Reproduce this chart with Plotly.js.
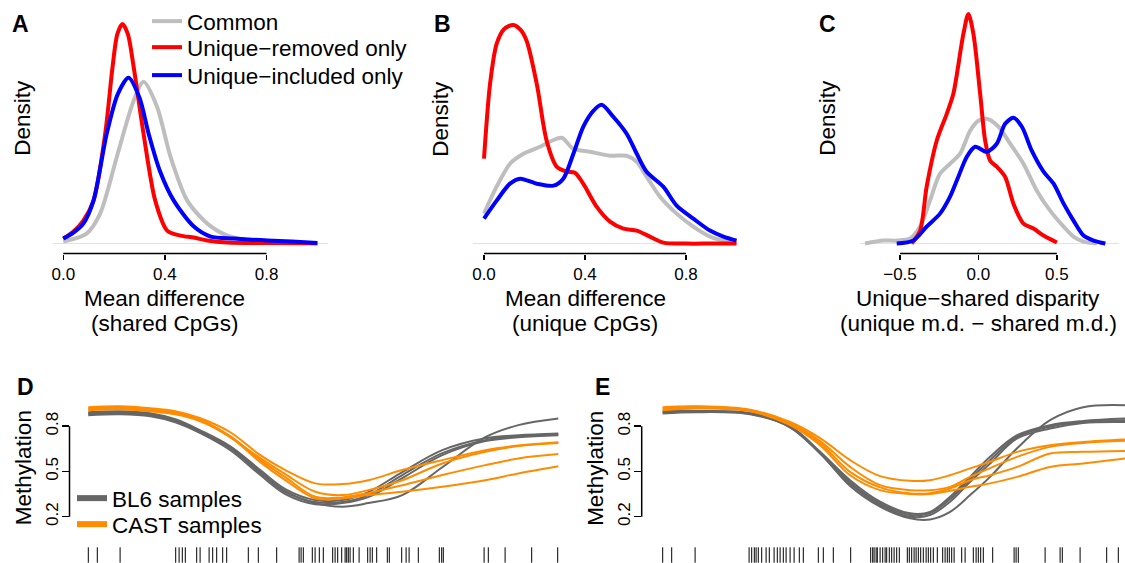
<!DOCTYPE html>
<html><head><meta charset="utf-8">
<script src="https://cdn.plot.ly/plotly-3.0.1.min.js"></script>
<style>html,body{margin:0;padding:0;background:#fff}#chart{width:1125px;height:563px}</style>
</head><body><div id="chart"></div>
<script>
// ---------- Panel A: mean difference (shared CpGs) ----------
const aCommonX   = [0, 0.092, 0.145, 0.211, 0.277, 0.316, 0.369, 0.422, 0.488, 0.567, 0.646, 0.738, 0.87, 1.0];
const aCommonY   = [0.05, 0.25, 0.75, 2.175, 3.575, 4.05, 3.425, 2.175, 1.075, 0.5, 0.2, 0.075, 0.025, 0];
const aRemovedX  = [0, 0.04, 0.079, 0.119, 0.165, 0.194, 0.213, 0.233, 0.254, 0.277, 0.316, 0.362, 0.409, 0.461, 0.514, 0.567, 0.646, 0.8, 1.0];
const aRemovedY  = [0.125, 0.3, 0.575, 1.075, 2.75, 4.425, 5.25, 5.5, 5.25, 4.425, 2.75, 1.075, 0.325, 0.2, 0.15, 0.075, 0.025, 0.0125, 0.0075];
const aIncludedX = [0, 0.04, 0.079, 0.119, 0.171, 0.215, 0.257, 0.3, 0.336, 0.38, 0.435, 0.514, 0.58, 0.672, 0.804, 0.9, 1.0];
const aIncludedY = [0.125, 0.275, 0.5, 1.075, 2.75, 3.75, 4.15, 3.65, 2.75, 1.825, 1.075, 0.425, 0.175, 0.125, 0.075, 0.05, 0.0125];

// ---------- Panel B: mean difference (unique CpGs) ----------
const bCommonX   = [0, 0.05, 0.103, 0.156, 0.222, 0.268, 0.308, 0.354, 0.42, 0.499, 0.565, 0.605, 0.644, 0.697, 0.763, 0.829, 0.895, 0.948, 1.0];
const bCommonY   = [0.75, 1.425, 2.0, 2.25, 2.425, 2.575, 2.65, 2.375, 2.3, 2.2, 2.2, 2.05, 1.675, 1.175, 0.75, 0.425, 0.175, 0.075, 0.025];
const bRemovedX  = [0, 0.024, 0.05, 0.08, 0.116, 0.145, 0.169, 0.209, 0.248, 0.288, 0.327, 0.36, 0.393, 0.446, 0.499, 0.552, 0.605, 0.657, 0.71, 0.8, 0.9, 1.0];
const bRemovedY  = [2.125, 4.0, 5.0, 5.375, 5.475, 5.35, 5.075, 4.0, 2.575, 1.925, 1.8, 1.775, 1.5, 0.925, 0.55, 0.375, 0.325, 0.175, 0.025, 0, 0, 0];
const bIncludedX = [0, 0.05, 0.103, 0.143, 0.209, 0.275, 0.314, 0.354, 0.393, 0.433, 0.466, 0.512, 0.565, 0.605, 0.644, 0.71, 0.763, 0.829, 0.895, 0.948, 1.0];
const bIncludedY = [0.625, 1.075, 1.5, 1.625, 1.5, 1.45, 1.625, 2.25, 2.925, 3.325, 3.475, 3.175, 2.75, 2.25, 1.8, 1.425, 0.95, 0.625, 0.325, 0.175, 0.075];

// ---------- Panel C: unique-shared disparity ----------
const cCommonX   = [-0.723, -0.606, -0.521, -0.436, -0.372, -0.309, -0.245, -0.181, -0.117, -0.053, 0, 0.053, 0.128, 0.202, 0.287, 0.372, 0.457, 0.543, 0.606, 0.67, 0.755];
const cCommonY   = [0, 0.075, 0.075, 0.125, 0.425, 1.075, 1.75, 2.0, 2.25, 2.825, 3.075, 3.125, 2.925, 2.5, 2.0, 1.325, 0.825, 0.425, 0.175, 0.05, 0];
const cRemovedX  = [-0.426, -0.372, -0.33, -0.266, -0.202, -0.16, -0.096, -0.064, -0.032, 0.011, 0.043, 0.075, 0.117, 0.17, 0.223, 0.287, 0.351, 0.415, 0.5];
const cRemovedY  = [0, 0.325, 1.425, 2.575, 3.25, 3.75, 5.25, 5.75, 5.25, 3.75, 2.575, 2.075, 1.925, 1.675, 1.0, 0.5, 0.375, 0.2, 0.025];
const cIncludedX = [-0.521, -0.415, -0.33, -0.245, -0.181, -0.128, -0.074, -0.021, 0.053, 0.117, 0.17, 0.223, 0.277, 0.34, 0.415, 0.479, 0.543, 0.606, 0.67, 0.734, 0.809];
const cIncludedY = [0, 0.075, 0.425, 0.75, 1.175, 1.675, 2.175, 2.425, 2.3, 2.5, 3.0, 3.15, 2.925, 2.325, 1.8, 1.5, 1.0, 0.575, 0.2, 0.075, 0];

const seriesNames = ['Common', 'Unique\u2212removed only', 'Unique\u2212included only'];
const abTicks = [0, 0.4, 0.8];
const abTickText = ['0.0', '0.4', '0.8'];
const cTicks = [-0.5, 0, 0.5];
const cTickText = ['\u22120.5', '0.0', '0.5'];

// ---------- Panel D: smoothed methylation, region 1 ----------
const dPos = [0, 160, 310, 435, 560, 710, 860, 985, 1135, 1270, 1400, 1570, 1770, 1985, 2150, 2350];
const dBL6 = [
  [0.879, 0.886, 0.873, 0.840, 0.767, 0.661, 0.496, 0.370, 0.290, 0.266, 0.290, 0.343, 0.528, 0.727, 0.807, 0.851],
  [0.893, 0.899, 0.886, 0.846, 0.773, 0.667, 0.509, 0.383, 0.310, 0.310, 0.363, 0.496, 0.641, 0.720, 0.740, 0.752],
  [0.886, 0.893, 0.879, 0.833, 0.760, 0.654, 0.489, 0.363, 0.297, 0.297, 0.343, 0.476, 0.621, 0.707, 0.734, 0.746],
  [0.873, 0.879, 0.866, 0.826, 0.754, 0.641, 0.476, 0.350, 0.283, 0.290, 0.330, 0.456, 0.608, 0.701, 0.727, 0.740]
];
const dCAST = [
  [0.926, 0.932, 0.919, 0.899, 0.853, 0.760, 0.608, 0.509, 0.421, 0.416, 0.442, 0.509, 0.575, 0.641, 0.672, 0.694],
  [0.919, 0.926, 0.913, 0.893, 0.846, 0.727, 0.588, 0.482, 0.365, 0.343, 0.376, 0.442, 0.553, 0.630, 0.668, 0.689],
  [0.913, 0.919, 0.906, 0.886, 0.840, 0.734, 0.575, 0.462, 0.332, 0.328, 0.356, 0.409, 0.476, 0.542, 0.586, 0.615],
  [0.906, 0.913, 0.899, 0.879, 0.833, 0.727, 0.562, 0.442, 0.321, 0.321, 0.343, 0.365, 0.398, 0.442, 0.487, 0.535]
];
const dCpG = [0, 45, 159, 437, 454, 470, 485, 542, 559, 604, 622, 642, 672, 692, 800, 850, 942, 1054, 1064, 1075, 1120, 1134, 1155, 1175, 1222, 1234, 1247, 1267, 1284, 1292, 1300, 1309, 1325, 1354, 1397, 1409, 1420, 1442, 1495, 1505, 1567, 1589, 1604, 1650, 1755, 1767, 1775, 1979, 2000, 2084, 2217, 2347];

// ---------- Panel E: smoothed methylation, region 2 ----------
const ePos = [0, 162, 437, 637, 787, 937, 1087, 1237, 1337, 1437, 1537, 1637, 1772, 1937, 2102, 2312];
const eBL6 = [
  [0.893, 0.899, 0.886, 0.793, 0.621, 0.403, 0.266, 0.189, 0.182, 0.232, 0.343, 0.464, 0.654, 0.840, 0.926, 0.939],
  [0.901, 0.901, 0.886, 0.800, 0.630, 0.442, 0.299, 0.222, 0.232, 0.332, 0.464, 0.597, 0.740, 0.807, 0.835, 0.851],
  [0.893, 0.896, 0.883, 0.797, 0.625, 0.429, 0.287, 0.211, 0.224, 0.317, 0.449, 0.575, 0.730, 0.797, 0.828, 0.840],
  [0.884, 0.893, 0.879, 0.793, 0.619, 0.416, 0.277, 0.199, 0.211, 0.299, 0.431, 0.553, 0.719, 0.785, 0.822, 0.828]
];
const eCAST = [
  [0.926, 0.932, 0.909, 0.828, 0.721, 0.575, 0.469, 0.438, 0.442, 0.475, 0.520, 0.564, 0.630, 0.674, 0.696, 0.712],
  [0.919, 0.929, 0.906, 0.820, 0.701, 0.530, 0.409, 0.376, 0.376, 0.398, 0.464, 0.522, 0.597, 0.663, 0.689, 0.703],
  [0.913, 0.923, 0.903, 0.813, 0.687, 0.497, 0.394, 0.354, 0.356, 0.387, 0.442, 0.475, 0.530, 0.619, 0.630, 0.636],
  [0.906, 0.917, 0.899, 0.807, 0.674, 0.475, 0.376, 0.350, 0.350, 0.372, 0.398, 0.421, 0.464, 0.530, 0.553, 0.586]
];
const eCpG = [0, 45, 162, 432, 445, 458, 467, 478, 495, 517, 533, 557, 573, 587, 603, 617, 637, 657, 683, 703, 778, 803, 853, 940, 1040, 1050, 1057, 1067, 1073, 1087, 1100, 1112, 1120, 1133, 1145, 1157, 1170, 1183, 1223, 1233, 1245, 1257, 1267, 1278, 1290, 1303, 1317, 1328, 1340, 1353, 1373, 1400, 1412, 1423, 1433, 1445, 1457, 1495, 1512, 1553, 1567, 1578, 1590, 1603, 1650, 1757, 1767, 1778, 1912, 1987, 1998, 2087, 2220, 2278];

const methTicks = [0.2, 0.5, 0.8];
const methTickText = ['0.2', '0.5', '0.8'];
const groupNames = ['BL6 samples', 'CAST samples'];

// ---------- styles ----------
const FONT = 'Liberation Sans, Arial, Helvetica, sans-serif';
const densColors = ['#BEBEBE', '#FF0000', '#0000FF'];
const grpColors = ['#666666', '#FF8C00'];
const W = 1125, H = 563;
const px = v => v / W, py = v => (H - v) / H;
const densLegends = ['legend', 'legend3', 'legend4'];
const grpLegends = ['legend2', 'legend5'];

const traces = [];
function densTraces(xs, ys, xa, ya, legend) {
  xs.forEach((x, i) => traces.push({
    type: 'scatter', mode: 'lines', x: x, y: ys[i], xaxis: xa, yaxis: ya,
    name: seriesNames[i], showlegend: legend, legend: densLegends[i],
    line: {color: densColors[i], width: 4, shape: 'spline', smoothing: 0.8}
  }));
}
densTraces([aCommonX, aRemovedX, aIncludedX], [aCommonY, aRemovedY, aIncludedY], 'x', 'y', true);
densTraces([bCommonX, bRemovedX, bIncludedX], [bCommonY, bRemovedY, bIncludedY], 'x2', 'y2', false);
densTraces([cCommonX, cRemovedX, cIncludedX], [cCommonY, cRemovedY, cIncludedY], 'x3', 'y3', false);

function methTraces(pos, bl6, cast, xa, ya) {
  [bl6, cast].forEach((grp, g) => grp.forEach(vals => traces.push({
    type: 'scatter', mode: 'lines', x: pos, y: vals, xaxis: xa, yaxis: ya,
    name: groupNames[g], showlegend: false,
    line: {color: grpColors[g], width: 2, shape: 'spline', smoothing: 1}
  })));
}
methTraces(dPos, dBL6, dCAST, 'x4', 'y4');
methTraces(ePos, eBL6, eCAST, 'x5', 'y5');
// legend keys for D (thick lines)
groupNames.forEach((n, g) => traces.push({
  type: 'scatter', mode: 'lines', x: [null], y: [null], xaxis: 'x4', yaxis: 'y4',
  name: n, showlegend: true, legend: grpLegends[g], line: {color: grpColors[g], width: 6}
}));
// empty traces so the label-only overlay axes get drawn
[['x4', 'y8'], ['x5', 'y9']].forEach(([xa, ya]) => traces.push({
  type: 'scatter', mode: 'lines', x: [null], y: [null], xaxis: xa, yaxis: ya, showlegend: false, hoverinfo: 'skip'
}));
// CpG rug marks
[[dCpG, 'x4', 'y6'], [eCpG, 'x5', 'y7']].forEach(([pos, xa, ya]) => traces.push({
  type: 'scatter', mode: 'markers', x: pos, y: pos.map(() => 0.5), xaxis: xa, yaxis: ya,
  showlegend: false, name: 'CpG',
  marker: {symbol: 'line-ns-open', size: 11, color: '#000', line: {width: 1, color: '#000'}}
}));

const topY = {domain: [py(253), py(10)], range: [-0.25, 5.825], showticklabels: false, ticks: '',
  showgrid: false, showline: false, zeroline: true, zerolinecolor: '#e3e3e3', zerolinewidth: 1, fixedrange: true};
function topX(domain, range, vals, text, anchor) {
  return {domain: domain, range: range, anchor: anchor, tickvals: vals, ticktext: text,
    ticks: 'outside', ticklen: 5, tickwidth: 1.5, tickcolor: '#000', showline: false, showgrid: false,
    zeroline: false, tickfont: {size: 17, family: FONT, color: '#000'}};
}
const methDomain = [py(531.7), py(401.8)];
const methRange = [0.1, 0.96];
// axis carrying tick marks only
function methY(anchor) {
  return {domain: methDomain, range: methRange, anchor: anchor, tickvals: methTicks,
    showticklabels: false, ticks: 'outside', ticklen: 7, tickwidth: 1.5, tickcolor: '#000', showline: false,
    showgrid: false, zeroline: false};
}
// overlay axis carrying rotated tick labels, close to the axis line
function methLabels(anchor, over) {
  return {overlaying: over, range: methRange, anchor: anchor, tickvals: methTicks, ticktext: methTickText,
    tickangle: -90, ticks: '', showline: false, showgrid: false, zeroline: false, ticklabelstandoff: 7,
    tickfont: {size: 17, family: FONT, color: '#000'}};
}
const hidden = {showticklabels: false, ticks: '', showgrid: false, zeroline: false, showline: false};
function leg(x, ytop) {
  return {x: px(x), y: py(ytop), xanchor: 'left', yanchor: 'top', bgcolor: 'rgba(0,0,0,0)',
    font: {size: 22.5, family: FONT, color: '#000'}};
}

const layout = {
  width: W, height: H, margin: {l: 0, r: 0, t: 0, b: 0},
  paper_bgcolor: '#fff', plot_bgcolor: 'rgba(0,0,0,0)',
  font: {family: FONT, color: '#000'},
  xaxis:  topX([px(53.1), px(327.5)], [-0.04, 1.04], abTicks, abTickText, 'y'),
  xaxis2: topX([px(473.4), px(738)], [-0.042, 1.006], abTicks, abTickText, 'y2'),
  xaxis3: topX([px(860), px(1119.3)], [-0.755, 0.898], cTicks, cTickText, 'y3'),
  yaxis:  Object.assign({anchor: 'x'}, topY),
  yaxis2: Object.assign({anchor: 'x2'}, topY),
  yaxis3: Object.assign({anchor: 'x3'}, topY),
  xaxis4: Object.assign({domain: [px(69.5), px(576.5)], range: [-94, 2441], anchor: 'y4'}, hidden),
  xaxis5: Object.assign({domain: [px(641.7), 1], range: [-105, 2311.5], anchor: 'y5'}, hidden),
  yaxis4: methY('x4'),
  yaxis5: methY('x5'),
  yaxis8: methLabels('x4', 'y4'),
  yaxis9: methLabels('x5', 'y5'),
  yaxis6: Object.assign({domain: [0, py(547)], range: [0, 1], anchor: 'x4'}, hidden),
  yaxis7: Object.assign({domain: [0, py(547)], range: [0, 1], anchor: 'x5'}, hidden),
  legend:  leg(147, -1),
  legend3: leg(147, 26),
  legend4: leg(147, 54),
  legend2: leg(72, 477),
  legend5: leg(72, 503),
  shapes: [
    {type: 'line', xref: 'x', yref: 'y domain', x0: abTicks[0], x1: abTicks[abTicks.length - 1], y0: 0, y1: 0, line: {color: '#000', width: 1.5}},
    {type: 'line', xref: 'x2', yref: 'y2 domain', x0: abTicks[0], x1: abTicks[abTicks.length - 1], y0: 0, y1: 0, line: {color: '#000', width: 1.5}},
    {type: 'line', xref: 'x3', yref: 'y3 domain', x0: cTicks[0], x1: cTicks[cTicks.length - 1], y0: 0, y1: 0, line: {color: '#000', width: 1.5}},
    {type: 'line', xref: 'x4 domain', yref: 'y4', x0: 0, x1: 0, y0: methTicks[0], y1: methTicks[methTicks.length - 1], line: {color: '#000', width: 1.5}},
    {type: 'line', xref: 'x5 domain', yref: 'y5', x0: 0, x1: 0, y0: methTicks[0], y1: methTicks[methTicks.length - 1], line: {color: '#000', width: 1.5}}
  ],
  annotations: []
};

const ann = layout.annotations;
const tfont = {size: 22.5, family: FONT, color: '#000'};
[['A', 20, 23], ['B', 442, 23], ['C', 827, 23], ['D', 25, 387], ['E', 602, 387]].forEach(([t, x, y]) =>
  ann.push({text: '<b>' + t + '</b>', x: px(x), y: py(y), xref: 'paper', yref: 'paper', showarrow: false,
    xanchor: 'center', yanchor: 'middle', font: {size: 23, family: FONT, color: '#000'}}));
[[23, 117], [441, 118], [828, 117]].forEach(([x, y]) =>
  ann.push({text: 'Density', x: px(x), y: py(y), xref: 'paper', yref: 'paper', textangle: -90, showarrow: false,
    xanchor: 'center', yanchor: 'middle', font: tfont}));
[[23, 468], [594.7, 468]].forEach(([x, y]) =>
  ann.push({text: 'Methylation', x: px(x), y: py(y), xref: 'paper', yref: 'paper', textangle: -90, showarrow: false,
    xanchor: 'center', yanchor: 'middle', font: tfont}));
[['x', (abTicks[0] + abTicks[2]) / 2, 'Mean difference', '(shared CpGs)'],
 ['x2', (abTicks[0] + abTicks[2]) / 2, 'Mean difference', '(unique CpGs)'],
 ['x3', (cTicks[0] + cTicks[2]) / 2, 'Unique\u2212shared disparity', '(unique m.d. \u2212 shared m.d.)']].forEach(([xr, x, t1, t2]) => {
  ann.push({text: t1, x: x, y: py(298), xref: xr, yref: 'paper', showarrow: false, borderpad: 0,
    xanchor: 'center', yanchor: 'middle', font: tfont});
  ann.push({text: t2, x: x, y: py(323), xref: xr, yref: 'paper', showarrow: false, borderpad: 0,
    xanchor: 'center', yanchor: 'middle', font: tfont});
});

Plotly.newPlot('chart', traces, layout, {staticPlot: true, displayModeBar: false});
</script>
</body></html>
